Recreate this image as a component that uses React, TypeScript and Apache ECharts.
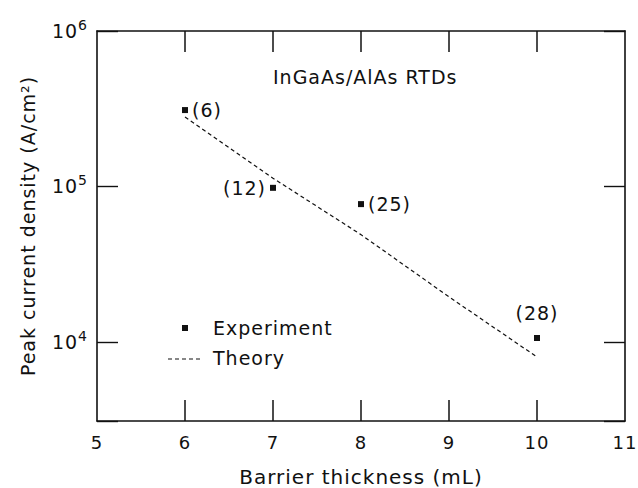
import React, { useEffect, useRef } from "react";
import * as echarts from "echarts";

const thickness = [6, 7, 8, 10];
const experiment = [3.1e5, 0.98e5, 7.7e4, 1.06e4];
const wellLabels = ["(6)", "(12)", "(25)", "(28)"];
const labelPositions = ["right", "left", "right", "top"];
const theoryThickness = [6, 7, 8, 9, 10];
const theory = [2.8e5, 1.13e5, 4.9e4, 1.95e4, 8.0e3];
const xInnerTicks = [6, 7, 8, 9, 10];
const xMin = 5;
const xMax = 11;
const yMin = 3100;
const yMax = 1e6;

const FONT = "DejaVu Sans";
const INK = "#111";
const TICK = 21;
const TICK_W = 1.5;

const isDecade = (v: number) => Math.abs(Math.log10(v) - Math.round(Math.log10(v))) < 1e-6;

export default function App() {
  const ref = useRef<HTMLDivElement>(null);
  useEffect(() => {
    if (!ref.current) return;
    const chart = echarts.init(ref.current, null, { renderer: "svg" });
    const axisLine = () => ({ show: true, onZero: false, lineStyle: { color: INK, width: 1.6 } });
    const ticks = () => ({ show: true, inside: true, length: TICK, lineStyle: { color: INK, width: 1.4 } });
    const legendGraphic = [
      { type: "rect", shape: { x: 182, y: 325, width: 6, height: 6 }, style: { fill: INK } },
      {
        type: "text",
        x: 213,
        y: 328,
        style: { text: "Experiment", fontFamily: FONT, fontSize: 19, fill: INK, verticalAlign: "middle" },
      },
      {
        type: "line",
        shape: { x1: 168, y1: 359, x2: 200, y2: 359 },
        style: { stroke: INK, lineWidth: 1.2, lineDash: [4, 3] },
      },
      {
        type: "text",
        x: 213,
        y: 358,
        style: { text: "Theory", fontFamily: FONT, fontSize: 19, fill: INK, verticalAlign: "middle" },
      },
    ];
    chart.setOption({
      animation: false,
      backgroundColor: "#fff",
      textStyle: { fontFamily: FONT, color: INK },
      title: {
        text: "InGaAs/AlAs RTDs",
        left: 268,
        top: 62,
        textStyle: { fontFamily: FONT, fontSize: 19, fontWeight: "normal", color: INK },
      },
      grid: { left: 97, right: 13, top: 31, bottom: 67, containLabel: false, outerBoundsMode: "none" },
      xAxis: [
        {
          type: "value",
          min: xMin,
          max: xMax,
          interval: 1,
          position: "bottom",
          name: "Barrier thickness (mL)",
          nameLocation: "middle",
          nameGap: 46,
          nameTextStyle: { fontFamily: FONT, fontSize: 20, color: INK },
          axisLine: axisLine(),
          axisTick: { show: false },
          splitLine: { show: false },
          axisLabel: { fontFamily: FONT, fontSize: 18, color: INK, margin: 12 },
        },
        {
          type: "value",
          min: xMin,
          max: xMax,
          interval: 1,
          position: "top",
          axisLine: axisLine(),
          axisTick: { show: false },
          splitLine: { show: false },
          axisLabel: { show: false },
        },
      ],
      yAxis: [
        {
          type: "log",
          logBase: 10,
          min: yMin,
          max: yMax,
          position: "left",
          name: "Peak current density (A/cm²)",
          nameLocation: "middle",
          nameGap: 60,
          nameRotate: 90,
          nameTextStyle: { fontFamily: FONT, fontSize: 19, color: INK },
          axisLine: axisLine(),
          axisTick: ticks(),
          splitLine: { show: false },
          minorTick: { show: false },
          axisLabel: {
            margin: 9,
            fontFamily: FONT,
            fontSize: 19,
            color: INK,
            formatter: (v: number) => (isDecade(v) ? "10{sup|" + Math.round(Math.log10(v)) + "}" : ""),
            rich: {
              sup: { fontFamily: FONT, fontSize: 14, color: INK, padding: [0, 0, 12, 1] },
            },
          },
        },
        {
          type: "log",
          logBase: 10,
          min: yMin,
          max: yMax,
          position: "right",
          axisLine: axisLine(),
          axisTick: ticks(),
          splitLine: { show: false },
          axisLabel: { show: false },
        },
      ],
      series: [
        {
          name: "Theory",
          type: "line",
          xAxisIndex: 0,
          yAxisIndex: 0,
          data: theoryThickness.map((x, i) => [x, theory[i]]),
          showSymbol: false,
          symbol: "none",
          lineStyle: { color: INK, width: 1.2, type: [4, 3] },
          z: 2,
        },
        {
          name: "Experiment",
          type: "scatter",
          xAxisIndex: 0,
          yAxisIndex: 0,
          symbol: "rect",
          symbolSize: 6,
          itemStyle: { color: INK, opacity: 1 },
          data: thickness.map((x, i) => ({
            value: [x, experiment[i]],
            label: {
              show: true,
              position: labelPositions[i],
              distance: labelPositions[i] === "top" ? 12 : 4,
              formatter: wellLabels[i],
              fontFamily: FONT,
              fontSize: 19,
              color: INK,
              opacity: 1,
              textBorderWidth: 0,
            },
          })),
          z: 3,
        },
      ],
      graphic: legendGraphic,
    });

    const tickRects: any[] = [];
    xInnerTicks.forEach((x) => {
      const b = chart.convertToPixel({ gridIndex: 0 }, [x, yMin]) as number[];
      const t = chart.convertToPixel({ gridIndex: 0 }, [x, yMax]) as number[];
      if (b && t) {
        tickRects.push({
          type: "rect",
          z: 100,
          shape: { x: b[0] - TICK_W / 2, y: b[1] - TICK, width: TICK_W, height: TICK },
          style: { fill: INK },
        });
        tickRects.push({
          type: "rect",
          z: 100,
          shape: { x: t[0] - TICK_W / 2, y: t[1], width: TICK_W, height: TICK },
          style: { fill: INK },
        });
      }
    });
    chart.setOption({ graphic: [...legendGraphic, ...tickRects] });

    return () => chart.dispose();
  }, []);
  return (
    <>
      <style>{"#rtd-chart svg text { letter-spacing: 1px; }"}</style>
      <div
        id="rtd-chart"
        ref={ref}
        style={{ position: "absolute", left: 0, top: 0, width: 638, height: 488, background: "#fff" }}
      />
    </>
  );
}
